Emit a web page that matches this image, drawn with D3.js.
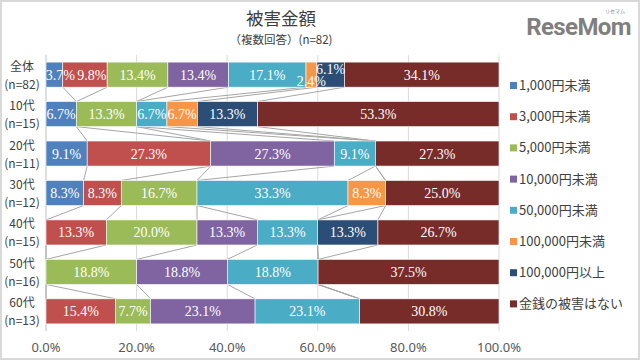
<!DOCTYPE html>
<html><head><meta charset="utf-8">
<script src="https://cdn.jsdelivr.net/npm/d3@7"></script>
<style>
html,body{margin:0;padding:0;background:#fff;}
svg{display:block;font-family:"Noto Sans CJK JP","Noto Sans",sans-serif;}
</style></head>
<body><svg id="c" width="640" height="360"></svg>
<script>
const groups = ["全体","10代","20代","30代","40代","50代","60代"];
const groupN = ["(n=82)","(n=15)","(n=11)","(n=12)","(n=15)","(n=16)","(n=13)"];
const series = ["1,000円未満","3,000円未満","5,000円未満","10,000円未満","50,000円未満","100,000円未満","100,000円以上","金銭の被害はない"];
const colors = ["#4f81bd","#c0504d","#9bbb59","#8064a2","#4bacc6","#f79646","#2c4d75","#772c2a"];
// values per group (percent), in series order
const v0 = [3.7, 9.8, 13.4, 13.4, 17.1, 2.4, 6.1, 34.1];
const v1 = [6.7, 0, 13.3, 0, 6.7, 6.7, 13.3, 53.3];
const v2 = [9.1, 27.3, 0, 27.3, 9.1, 0, 0, 27.3];
const v3 = [8.3, 8.3, 16.7, 0, 33.3, 8.3, 0, 25.0];
const v4 = [0, 13.3, 20.0, 13.3, 13.3, 0, 13.3, 26.7];
const v5 = [0, 0, 18.8, 18.8, 18.8, 0, 0, 37.5];
const v6 = [0, 15.4, 7.7, 23.1, 23.1, 0, 0, 30.8];
const values = [v0, v1, v2, v3, v4, v5, v6];
const xTicks = [0, 0.2, 0.4, 0.6, 0.8, 1.0];

const svg = d3.select("#c");
// outer frame
svg.append("rect").attr("x",1).attr("y",1).attr("width",638).attr("height",358)
  .attr("fill","#fff").attr("stroke","#d9d9d9").attr("stroke-width",2);

const x = d3.scaleLinear().domain([0,1]).range([46,499]);
const y = d3.scaleBand().domain(groups).range([55,331]).paddingInner(0.365).paddingOuter(0.18);

// title
svg.append("text").attr("x",281).attr("y",25).attr("text-anchor","middle")
  .attr("font-size",17.5).attr("fill","#404040").text("被害金額");
svg.append("text").attr("x",281).attr("y",44).attr("text-anchor","middle")
  .attr("font-size",11.5).attr("fill","#404040").text("（複数回答）(n=82)");

// logo
const logo = svg.append("g");
logo.append("text").attr("x",631).attr("y",35).attr("text-anchor","end")
  .attr("font-family","Roboto, 'Noto Sans', sans-serif").attr("font-weight","bold")
  .attr("font-size",24).attr("fill","#7f7f7f").attr("letter-spacing",-0.6).text("ReseMom");
logo.append("text").attr("x",625).attr("y",13).attr("text-anchor","end")
  .attr("font-size",5).attr("fill","#7f7f7f").text("リセマム");

// gridlines
svg.append("g").selectAll("line").data(xTicks).join("line")
  .attr("x1",d=>x(d)).attr("x2",d=>x(d)).attr("y1",55).attr("y2",331)
  .attr("stroke",d=>d===0?"#bfbfbf":"#d9d9d9").attr("stroke-width",1);

// stack (normalized to 100%)
const rows = groups.map((g,i)=>{const o={group:g}; series.forEach((s,j)=>o[s]=values[i][j]); return o;});
const stack = d3.stack().keys(series).offset(d3.stackOffsetExpand);
const layers = stack(rows);

// series lines
const sl = svg.append("g").attr("stroke","#a6a6a6").attr("stroke-width",1).attr("fill","none");
layers.slice(0, layers.length-1).forEach(layer=>{
  for(let k=0;k<groups.length-1;k++){
    const a = layer[k], b = layer[k+1];
    sl.append("line")
      .attr("x1",x(a[1])).attr("y1",y(groups[k])+y.bandwidth())
      .attr("x2",x(b[1])).attr("y2",y(groups[k+1]));
  }
});

// bars
layers.forEach((layer,si)=>{
  svg.append("g").attr("fill",colors[si]).selectAll("rect").data(layer).join("rect")
    .attr("x",d=>x(d[0])).attr("width",d=>Math.max(0,x(d[1])-x(d[0])))
    .attr("y",d=>y(d.data.group)).attr("height",y.bandwidth())
    .attr("stroke",d=>(d[1]-d[0])>0?"#fff":"none").attr("stroke-width",0.6);
});

// labels
const nudgeY = {"0-5":6, "0-6":-6};
const nudgeX = {"0-0":6, "0-1":7};
layers.forEach((layer,si)=>{
  layer.forEach((d,gi)=>{
    const val = values[gi][si];
    if(!val) return;
    const dy = nudgeY[gi+"-"+si]||0, dx = nudgeX[gi+"-"+si]||0;
    svg.append("text").attr("x",(x(d[0])+x(d[1]))/2+dx)
      .attr("y",y(d.data.group)+y.bandwidth()/2+5+dy)
      .attr("text-anchor","middle").attr("font-family","'Liberation Serif','DejaVu Serif',serif")
      .attr("font-size",14).attr("fill","#fff").text(val.toFixed(1)+"%");
  });
});

// y labels
groups.forEach((g,i)=>{
  const cy = y(g)+y.bandwidth()/2;
  svg.append("text").attr("x",22).attr("y",cy-4).attr("text-anchor","middle")
    .attr("font-size",12).attr("fill","#404040").text(g);
  svg.append("text").attr("x",22).attr("y",cy+14).attr("text-anchor","middle")
    .attr("font-size",12).attr("fill","#404040").text(groupN[i]);
});

// x axis labels
svg.append("g").selectAll("text").data(xTicks).join("text")
  .attr("x",d=>x(d)).attr("y",352).attr("text-anchor","middle")
  .attr("font-family","'Noto Sans','DejaVu Sans',sans-serif")
  .attr("font-size",13).attr("fill","#595959").text(d=>(d*100).toFixed(1)+"%");

// legend
const lg = svg.append("g");
series.forEach((s,i)=>{
  const ly = 86 + i*31.2;
  lg.append("rect").attr("x",510).attr("y",ly-4).attr("width",7).attr("height",7).attr("fill",colors[i]);
  lg.append("text").attr("x",519).attr("y",ly+4).attr("font-size",13).attr("fill","#404040").text(s);
});
</script></body></html>
